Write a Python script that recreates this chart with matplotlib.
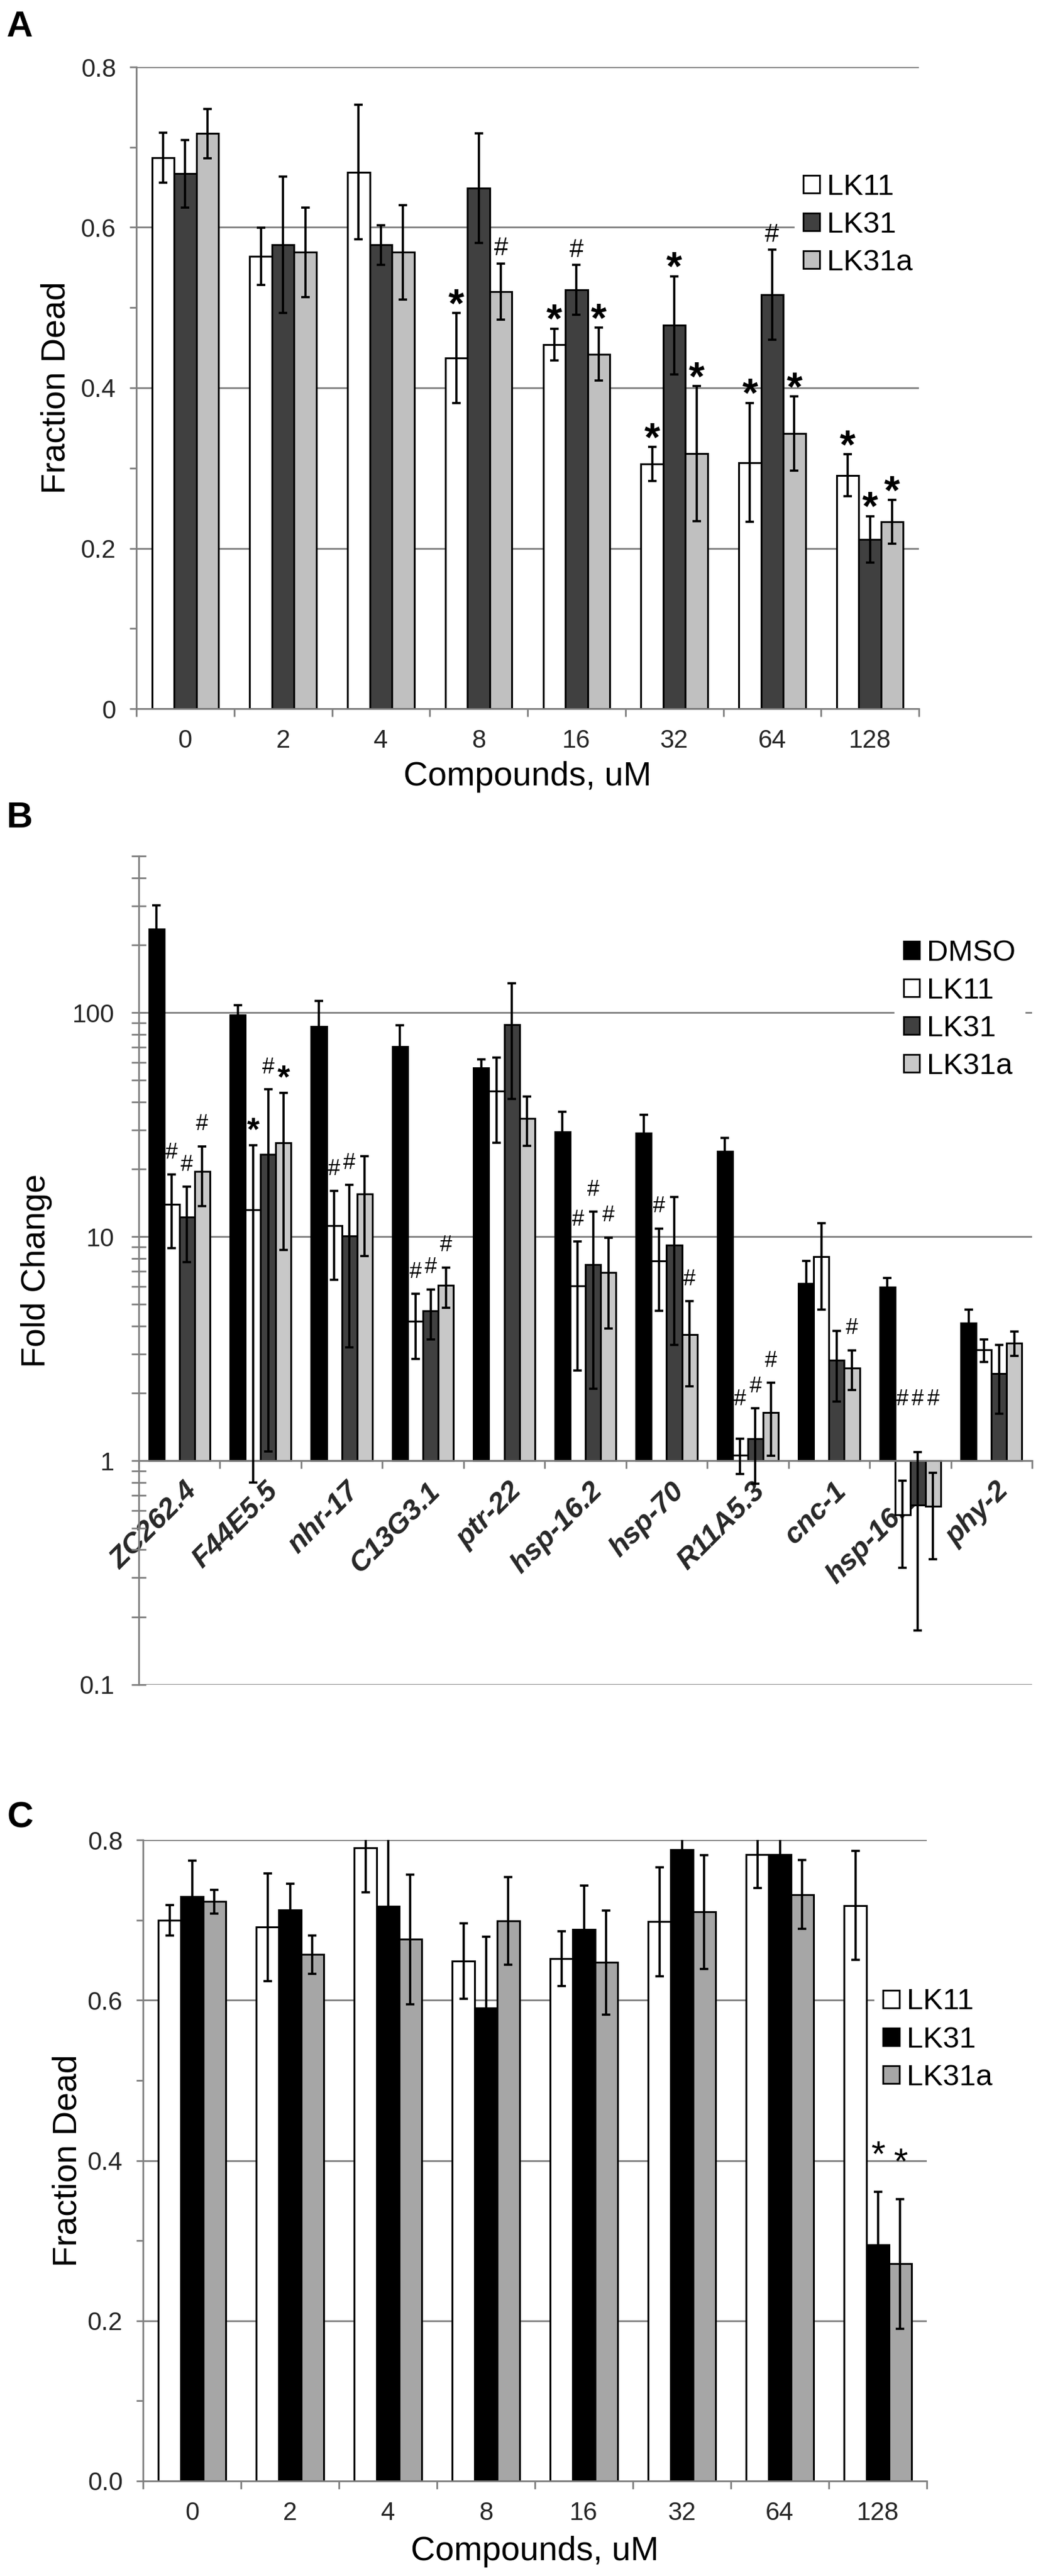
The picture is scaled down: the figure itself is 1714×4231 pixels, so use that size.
import numpy as np
import matplotlib
matplotlib.use("Agg")
import matplotlib.pyplot as plt
import matplotlib.transforms as mtransforms
from matplotlib.patches import Patch
from matplotlib.ticker import NullFormatter

plt.rcParams['font.family'] = ['Liberation Sans', 'DejaVu Sans']

# ---------------- Panel A: fraction dead vs compound dose ----------------
doses = ['0', '2', '4', '8', '16', '32', '64', '128']
a_names = ['LK11', 'LK31', 'LK31a']
a_lk11 = [0.687, 0.564, 0.669, 0.437, 0.454, 0.305, 0.307, 0.291]
a_lk11_err = [0.031, 0.036, 0.084, 0.056, 0.020, 0.021, 0.074, 0.026]
a_lk31 = [0.667, 0.578, 0.578, 0.649, 0.522, 0.478, 0.516, 0.211]
a_lk31_err = [0.042, 0.085, 0.025, 0.068, 0.031, 0.061, 0.056, 0.029]
a_lk31a = [0.717, 0.569, 0.569, 0.520, 0.442, 0.318, 0.343, 0.233]
a_lk31a_err = [0.031, 0.056, 0.059, 0.035, 0.033, 0.084, 0.046, 0.027]
# (dose index, series index, symbol)
a_marks = [(3, 0, '*'), (3, 2, '#'),
           (4, 0, '*'), (4, 1, '#'), (4, 2, '*'),
           (5, 0, '*'), (5, 1, '*'), (5, 2, '*'),
           (6, 0, '*'), (6, 1, '#'), (6, 2, '*'),
           (7, 0, '*'), (7, 1, '*'), (7, 2, '*')]

# ---------------- Panel B: fold change per gene ----------------
genes = ['ZC262.4', 'F44E5.5', 'nhr-17', 'C13G3.1', 'ptr-22', 'hsp-16.2',
         'hsp-70', 'R11A5.3', 'cnc-1', 'hsp-16.11', 'phy-2']
b_names = ['DMSO', 'LK11', 'LK31', 'LK31a']
b_dmso = [236, 97.8, 86.9, 70.4, 56.8, 29.3, 29.0, 24.1, 6.19, 5.97, 4.11]
b_dmso_err = [65, 10, 26, 17.3, 5.2, 6.8, 6.0, 3.4, 1.58, 0.55, 0.62]
b_lk11 = [13.9, 13.2, 11.2, 4.20, 44.6, 6.02, 7.77, 1.06, 8.12, 0.573, 3.12]
b_lk11_err = [5.0, 12.4, 4.8, 1.35, 18.4, 3.5, 3.1, 0.19, 3.4, 0.24, 0.36]
b_lk31 = [12.2, 23.3, 10.1, 4.65, 88.1, 7.50, 9.14, 1.25, 2.81, 0.635, 2.45]
b_lk31_err = [4.5, 22.2, 6.9, 1.17, 47, 5.4, 5.85, 0.46, 0.98, 0.46, 0.83]
b_lk31a = [19.5, 26.2, 15.5, 6.05, 33.8, 6.90, 3.65, 1.64, 2.59, 0.624, 3.35]
b_lk31a_err = [5.8, 17.5, 7.3, 1.24, 8.4, 3.0, 1.5, 0.59, 0.52, 0.26, 0.42]
b_marks = [(0, 1, '#'), (0, 2, '#'), (0, 3, '#'),
           (1, 1, '*'), (1, 2, '#'), (1, 3, '*'),
           (2, 1, '#'), (2, 2, '#'),
           (3, 1, '#'), (3, 2, '#'), (3, 3, '#'),
           (5, 1, '#'), (5, 2, '#'), (5, 3, '#'),
           (6, 1, '#'), (6, 3, '#'),
           (7, 1, '#'), (7, 2, '#'), (7, 3, '#'),
           (8, 3, '#'),
           (9, 1, '#'), (9, 2, '#'), (9, 3, '#')]

# ---------------- Panel C: fraction dead vs compound dose ----------------
c_names = ['LK11', 'LK31', 'LK31a']
c_lk11 = [0.700, 0.691, 0.790, 0.649, 0.652, 0.698, 0.782, 0.718]
c_lk11_err = [0.019, 0.067, 0.055, 0.047, 0.034, 0.068, 0.042, 0.068]
c_lk31 = [0.729, 0.713, 0.717, 0.590, 0.688, 0.788, 0.782, 0.295]
c_lk31_err = [0.045, 0.032, 0.090, 0.089, 0.055, 0.040, 0.040, 0.066]
c_lk31a = [0.723, 0.657, 0.676, 0.699, 0.647, 0.710, 0.732, 0.271]
c_lk31a_err = [0.015, 0.024, 0.081, 0.055, 0.065, 0.071, 0.043, 0.081]
c_marks = [(7, 1, '*'), (7, 2, '*')]

GRAY = '#808080'
TICK_TXT = '#262626'


def style_axes(ax):
    for s in ['top', 'right']:
        ax.spines[s].set_visible(False)
    for s in ['left', 'bottom']:
        ax.spines[s].set_color(GRAY)
        ax.spines[s].set_linewidth(2)
    ax.set_axisbelow(True)
    ax.yaxis.grid(True, which='major', color=GRAY, linewidth=2)


def category_axis(ax, labels, pad, size, **kw):
    n = len(labels)
    ax.set_xlim(0, n)
    ax.set_xticks(np.arange(n + 1), [''] * (n + 1))
    ax.set_xticks(np.arange(n) + 0.5, labels, minor=True, **kw)
    ax.tick_params(axis='x', which='major', direction='out', length=9,
                   width=2, color=GRAY)
    ax.tick_params(axis='x', which='minor', length=0, pad=pad,
                   labelsize=size, labelcolor=TICK_TXT)


def grouped_bars(ax, means, errs, colors, width, base=0):
    centers = np.arange(len(means[0])) + 0.5
    n = len(means)
    xs = []
    for k, (m, e, c) in enumerate(zip(means, errs, colors)):
        x = centers + (k - (n - 1) / 2) * width
        m = np.asarray(m, float)
        ax.bar(x, m - base, width, bottom=base, color=c, edgecolor='black',
               linewidth=2.2, zorder=2)
        ax.errorbar(x, m, yerr=e, fmt='none', ecolor='black', elinewidth=2.6,
                    capsize=4.7, capthick=2.6, zorder=3)
        xs.append(x)
    return xs


def add_marks(ax, xs, means, errs, marks, styles, floor=None):
    for g, s, sym in marks:
        top = means[s][g] + errs[s][g]
        if floor is not None:
            top = max(top, floor)
        size, weight, lift = styles[sym]
        ax.annotate(sym, (xs[s][g], top), xytext=(0, lift),
                    textcoords='offset points', ha='center', va='baseline',
                    fontsize=size, fontweight=weight, zorder=4,
                    annotation_clip=False)


def add_legend(ax, names, colors, anchor):
    handles = [Patch(facecolor=c, edgecolor='black', linewidth=2) for c in colors]
    leg = ax.legend(handles, names, loc='center left', bbox_to_anchor=anchor,
                    fontsize=35, frameon=True, fancybox=False, framealpha=1,
                    facecolor='white', edgecolor='white', borderpad=0.3,
                    borderaxespad=0, handlelength=0.55, handleheight=0.55,
                    handletextpad=0.25, labelspacing=0.35)
    leg.set_zorder(6)
    return leg


def fraction_y(ax, fmt):
    ax.set_ylim(0, 0.8)
    major = np.arange(0, 0.81, 0.2)
    ax.set_yticks(major, [fmt % v for v in major])
    ax.set_yticks(np.arange(0.1, 0.8, 0.2), minor=True)
    ax.tick_params(axis='y', which='both', direction='out', length=8, width=2,
                   color=GRAY, pad=16, labelsize=30, labelcolor=TICK_TXT)


fig = plt.figure(figsize=(17.14, 42.31), dpi=100)
W, H = 1714.0, 4231.0


def rect(x0, y0, x1, y1):
    return [x0 / W, 1 - y1 / H, (x1 - x0) / W, (y1 - y0) / H]


# ---- A ----
axA = fig.add_axes(rect(224, 110, 1510, 1164))
style_axes(axA)
a_means = [a_lk11, a_lk31, a_lk31a]
a_errs = [a_lk11_err, a_lk31_err, a_lk31a_err]
a_colors = ['white', '#404040', '#c0c0c0']
xsA = grouped_bars(axA, a_means, a_errs, a_colors, 0.227)
category_axis(axA, doses, pad=24, size=30)
fraction_y(axA, '%g')
add_marks(axA, xsA, a_means, a_errs, a_marks,
          {'*': (48, 'bold', -4), '#': (30, 'normal', 10)})
add_legend(axA, a_names, a_colors, (0.841, 0.754))
axA.set_ylabel('Fraction Dead', fontsize=40, va='center')
axA.yaxis.set_label_coords(-0.102, 0.5)
axA.set_xlabel('Compounds, uM', fontsize=40, va='center')
axA.xaxis.set_label_coords(0.5, -0.106)

# ---- B ----
axB = fig.add_axes(rect(228, 1406, 1696, 2767))
style_axes(axB)
axB.set_yscale('log')
axB.set_ylim(0.1, 500)
b_means = [b_dmso, b_lk11, b_lk31, b_lk31a]
b_errs = [b_dmso_err, b_lk11_err, b_lk31_err, b_lk31a_err]
b_colors = ['black', 'white', '#404040', '#c8c8c8']
xsB = grouped_bars(axB, b_means, b_errs, b_colors, 0.188, base=1)
axB.spines['bottom'].set_position(('data', 1))
category_axis(axB, genes, pad=20, size=34, rotation=45, ha='right',
              rotation_mode='anchor', fontweight='bold', fontstyle='italic')
shift = mtransforms.ScaledTranslation(6 / 100, 0, fig.dpi_scale_trans)
for lab in axB.get_xticklabels(minor=True):
    lab.set_transform(lab.get_transform() + shift)
axB.set_yticks([0.1, 1, 10, 100], ['0.1', '1', '10', '100'])
minor_b = [k * 10.0 ** d for d in range(-1, 3) for k in range(2, 10) if k * 10.0 ** d <= 500]
axB.set_yticks(minor_b, minor=True)
axB.yaxis.set_minor_formatter(NullFormatter())
axB.tick_params(axis='y', which='both', direction='inout', length=17, width=2,
                color=GRAY, pad=20, labelsize=30, labelcolor=TICK_TXT)
add_marks(axB, xsB, b_means, b_errs, b_marks,
          {'#': (26, 'normal', 19), '*': (38, 'bold', 6)}, floor=1.5)
add_legend(axB, b_names, b_colors, (0.846, 0.8145))
axB.set_ylabel('Fold Change', fontsize=40, va='center')
axB.yaxis.set_label_coords(-0.1144, 0.5)

# ---- C ----
axC = fig.add_axes(rect(235, 3022, 1523, 4075))
style_axes(axC)
c_means = [c_lk11, c_lk31, c_lk31a]
c_errs = [c_lk11_err, c_lk31_err, c_lk31a_err]
c_colors = ['white', 'black', '#a6a6a6']
xsC = grouped_bars(axC, c_means, c_errs, c_colors, 0.228)
category_axis(axC, doses, pad=24, size=30)
fraction_y(axC, '%.1f')
add_marks(axC, xsC, c_means, c_errs, c_marks, {'*': (43, 'normal', 31)})
add_legend(axC, c_names, c_colors, (0.933, 0.6885))
axC.set_ylabel('Fraction Dead', fontsize=40, va='center')
axC.yaxis.set_label_coords(-0.0955, 0.5)
axC.set_xlabel('Compounds, uM', fontsize=40, va='center')
axC.xaxis.set_label_coords(0.5, -0.110)

# panel letters
for letter, base in [('A', 60), ('B', 1359), ('C', 3002)]:
    fig.text(11 / W, 1 - base / H, letter, fontsize=43, fontweight='bold',
             ha='left', va='baseline')

fig.savefig('out.png', dpi=100)
